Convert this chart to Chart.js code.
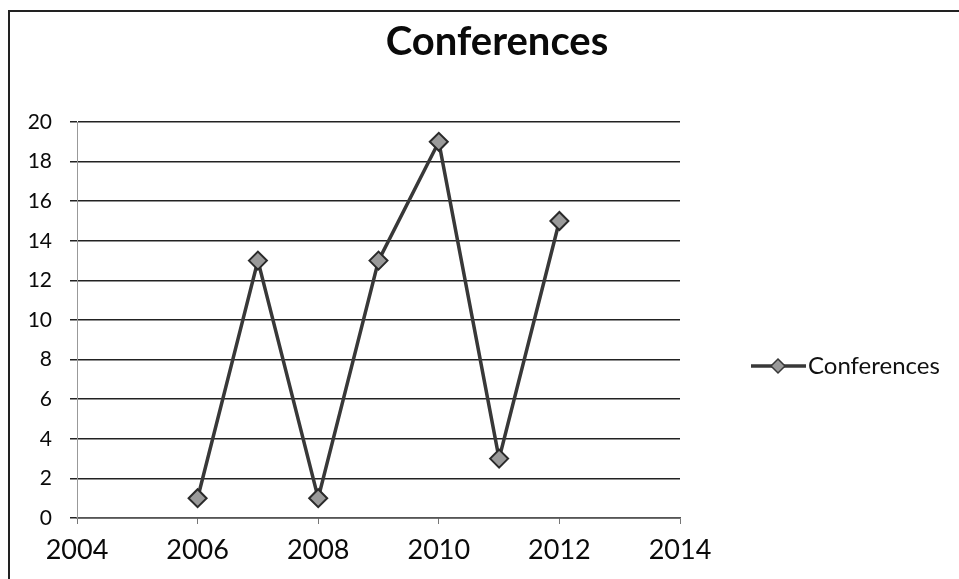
<!DOCTYPE html>
<html>
<head>
<meta charset="utf-8">
<script src="https://cdn.jsdelivr.net/npm/chart.js@4/dist/chart.umd.min.js"></script>
<style>
  html, body { margin: 0; padding: 0; background: #fff; }
  #wrap { position: relative; width: 959px; height: 579px; }
</style>
</head>
<body>
<div id="wrap"><canvas id="c" width="959" height="579"></canvas></div>
<script>
// Conferences per year
const years = [2006, 2007, 2008, 2009, 2010, 2011, 2012];
const conferences = [1, 13, 1, 13, 19, 3, 15];
const seriesName = 'Conferences';
const chartTitle = 'Conferences';
const xTicks = [2004, 2006, 2008, 2010, 2012, 2014];
const yTicks = [0, 2, 4, 6, 8, 10, 12, 14, 16, 18, 20];

const LINE = '#383838';
const MARK = '#9a9a9a';
const FONT = 'Lato, "DejaVu Sans", sans-serif';

// Frame, title and right-hand legend entry
const decor = {
  id: 'decor',
  afterDraw(chart) {
    const ctx = chart.ctx;
    ctx.save();
    // outer frame (left and top edges)
    ctx.strokeStyle = '#222';
    ctx.lineWidth = 2;
    ctx.beginPath();
    ctx.moveTo(9, 579);
    ctx.lineTo(9, 11);
    ctx.lineTo(959, 11);
    ctx.stroke();

    // title
    ctx.fillStyle = '#0a0a0a';
    ctx.font = 'bold 40px ' + FONT;
    ctx.textAlign = 'center';
    ctx.textBaseline = 'middle';
    ctx.fillText(chartTitle, 497, 42);

    // legend entry
    const ds = chart.data.datasets[0];
    const ly = 366;
    ctx.strokeStyle = ds.borderColor;
    ctx.lineWidth = 3.5;
    ctx.beginPath();
    ctx.moveTo(751, ly);
    ctx.lineTo(806, ly);
    ctx.stroke();
    ctx.beginPath();
    const r = 7;
    ctx.moveTo(778, ly - r);
    ctx.lineTo(778 + r, ly);
    ctx.lineTo(778, ly + r);
    ctx.lineTo(778 - r, ly);
    ctx.closePath();
    ctx.fillStyle = ds.pointBackgroundColor;
    ctx.fill();
    ctx.lineWidth = 1.5;
    ctx.stroke();
    ctx.fillStyle = '#111';
    ctx.font = '24px ' + FONT;
    ctx.textAlign = 'left';
    ctx.fillText(ds.label, 808, ly);
    ctx.restore();
  }
};

new Chart(document.getElementById('c'), {
  type: 'scatter',
  data: {
    datasets: [{
      label: seriesName,
      data: years.map((y, i) => ({ x: y, y: conferences[i] })),
      showLine: true,
      borderColor: LINE,
      borderWidth: 3.5,
      pointStyle: 'rectRot',
      pointRadius: 9,
      pointBackgroundColor: MARK,
      pointBorderColor: '#2a2a2a',
      pointBorderWidth: 2,
      tension: 0
    }]
  },
  options: {
    responsive: false,
    animation: false,
    layout: { padding: { left: 20, right: 279, top: 122, bottom: 0 } },
    plugins: { legend: { display: false }, title: { display: false }, tooltip: { enabled: false } },
    scales: {
      x: {
        type: 'linear',
        min: 2004, max: 2014,
        afterBuildTicks(s) { s.ticks = xTicks.map(v => ({ value: v })); },
        afterFit(s) { s.height = 61; },
        border: { display: true, color: '#555', width: 1.5 },
        grid: { drawOnChartArea: false, drawTicks: true, tickLength: 6, color: '#777' },
        ticks: {
          color: '#0a0a0a',
          font: { family: FONT, size: 27 },
          padding: 10,
          callback: v => String(v)
        }
      },
      y: {
        min: 0, max: 20,
        afterBuildTicks(s) { s.ticks = yTicks.map(v => ({ value: v })); },
        afterFit(s) { s.width = 57; },
        border: { display: true, color: '#999', width: 1 },
        grid: { color: '#222', lineWidth: 1.5, tickLength: 7, drawTicks: true },
        ticks: {
          color: '#0a0a0a',
          font: { family: FONT, size: 21 },
          padding: 18
        }
      }
    }
  },
  plugins: [decor]
});
</script>
</body>
</html>
